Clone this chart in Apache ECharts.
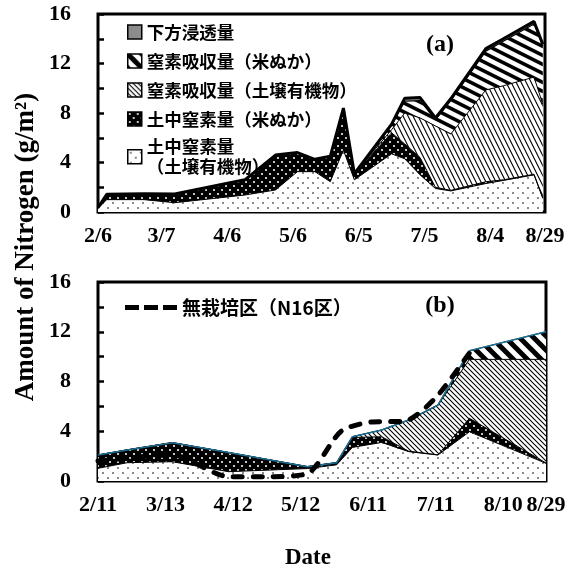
<!DOCTYPE html>
<html><head><meta charset="utf-8">
<script src="https://cdn.jsdelivr.net/npm/echarts@6/dist/echarts.min.js"></script>
<style>html,body{margin:0;padding:0;background:#fff}#c{width:578px;height:572px}</style>
</head><body><div id="c"></div>
<script>
// ---------- data: panel (a) ----------
const daysA = [0,4,21,35,67,81,91,99,106,112,117,134,140,147,154,161,177,185,199,203];
const soilOrgA = [0.3,1.0,1.0,0.75,1.37,1.78,3.26,3.26,2.45,5.0,2.6,4.7,4.3,3.0,1.9,1.7,2.3,2.55,3.0,1.1];
const soilBranA = [0.05,0.43,0.48,0.7,1.23,2.82,1.54,1.0,2.05,3.4,0.5,1.7,1.2,1.4,0.1,0.05,0.15,0.05,0.05,0.05];
const uptOrgA = [0,0,0,0,0,0,0,0,0,0,0,0.25,2.5,3.2,4.95,4.55,7.41,7.6,7.85,7.55];
const uptBranA = [0,0,0,0,0,0,0,0,0,0,0,0.35,0.95,1.4,0.5,2.7,3.14,3.6,4.3,4.7];
const leachA = [0,0,0,0,0,0,0,0,0,0,0,0.1,0.25,0.25,0.15,0.15,0.2,0.2,0.2,0.15];
const tickDaysA = [0,29,59,89,119,149,179,204];
const tickLabelsA = ['2/6','3/7','4/6','5/6','6/5','7/5','8/4','8/29'];

// ---------- data: panel (b) ----------
const daysB = [0,13,33,58,93,106,113,126,138,151,165,199];
const soilOrgB = [1.02,1.47,1.55,0.75,1.0,1.3,2.7,3.1,2.36,2.09,3.96,1.42];
const soilBranB = [1.07,1.03,1.53,1.54,0.15,0.17,0.8,0.46,0.04,0.01,1.08,0.03];
const uptOrgB = [0,0,0,0,0,0,0.06,0.54,2.5,4.0,4.74,8.33];
const uptBranB = [0,0,0,0,0,0,0,0,0,0,0.69,2.22];
const leachB = [0,0,0,0,0,0,0,0,0,0,0,0];
const fallowDays = [0,33,58,75,93,108,122,136,150,165];
const fallowN = [1.6,2.1,0.35,0.35,0.6,4.0,4.75,4.8,6.7,10.3];
const tickDaysB = [0,30,60,90,120,150,180,199];
const tickLabelsB = ['2/11','3/13','4/12','5/12','6/11','7/11','8/10','8/29'];

const yTicks = [0,4,8,12,16];

const N = ['土中窒素量\n（土壌有機物）','土中窒素量（米ぬか）','窒素吸収量（土壌有機物）','窒素吸収量（米ぬか）','下方浸透量'];
const fallowName = '無栽培区（N16区）';

// ---------- patterns ----------
function pat(w, h, draw) {
  const c = document.createElement('canvas'); c.width = w; c.height = h;
  const g = c.getContext('2d'); draw(g, w, h);
  return { image: c, repeat: 'repeat' };
}
function stripes(w, h, lw) {
  return pat(w, h, g => {
    g.fillStyle = '#fff'; g.fillRect(0, 0, w, h);
    g.strokeStyle = '#000'; g.lineWidth = lw; g.beginPath();
    for (let k = -2; k <= 2; k++) { g.moveTo(k*w - w, -h); g.lineTo(k*w + 2*w, 2*h); }
    g.stroke();
  });
}
const grey = pat(4, 4, g => { g.fillStyle = '#8c8c8c'; g.fillRect(0, 0, 4, 4); });
const dotsLight = pat(10, 10, g => { g.fillStyle='#fff'; g.fillRect(0,0,10,10); g.fillStyle='#8a8a8a'; g.fillRect(2,2,2,2); g.fillRect(7,7,2,2); });
const dotsDark = pat(8, 8, g => { g.fillStyle='#000'; g.fillRect(0,0,8,8); g.fillStyle='#c4c4c4'; g.fillRect(1,1,2,2); g.fillRect(5,5,2,2); });
const fineA = stripes(5, 10, 1.1);
const boldA = stripes(18, 9, 3.6);
const fineB = stripes(5, 5, 1.1);
const boldB = stripes(14, 14, 5);

// stacked layers: data stored as [value, day] so the value dimension is the stacked one
function mk(name, gi, days, vals, fill, lw, lc) {
  return {
    name, type: 'line', xAxisIndex: gi, yAxisIndex: gi, stack: 's' + gi,
    encode: { x: 1, y: 0 },
    data: days.map((d, i) => [vals[i], d]), symbol: 'none', z: 2,
    lineStyle: { color: lc, width: lw }, itemStyle: { color: lc },
    areaStyle: { color: fill, opacity: 1 }, emphasis: { disabled: true }
  };
}

const serif = '"Liberation Serif", "Times New Roman", serif';
const cjk = '"Noto Sans CJK JP", sans-serif';

function xAxis(gi, max, tdays, tlabels) {
  return {
    gridIndex: gi, type: 'value', min: 0, max: max,
    axisLine: { show: false }, splitLine: { show: false },
    axisTick: { show: true, inside: true, length: 6, lineStyle: { color: '#000', width: 2.5 },
      customValues: tdays.slice(1, -1) },
    axisLabel: { customValues: tdays, formatter: v => tlabels[tdays.indexOf(v)] || '',
      fontFamily: serif, fontWeight: 'bold', fontSize: 22, color: '#000', margin: 13 }
  };
}
function yAxis(gi) {
  return {
    gridIndex: gi, type: 'value', min: 0, max: 16, interval: 2,
    axisLine: { show: false }, splitLine: { show: false },
    axisTick: { show: true, inside: true, length: 6, lineStyle: { color: '#000', width: 2.5 } },
    axisLabel: { formatter: v => yTicks.indexOf(v) >= 0 ? String(v) : '',
      fontFamily: serif, fontWeight: 'bold', fontSize: 22, color: '#000', margin: 27 }
  };
}

function txt(x, y, text, size, rot) {
  return { type: 'text', x, y, z: 100, rotation: rot || 0,
    style: { text, font: 'bold ' + size + 'px ' + serif, fill: '#000', align: 'center', verticalAlign: 'middle', textAlign: 'center', textVerticalAlign: 'middle' } };
}

const chart = echarts.init(document.getElementById('c'), null, { renderer: 'canvas' });
chart.setOption({
  animation: false,
  backgroundColor: '#fff',
  grid: [
    { left: 98, top: 14, width: 447, height: 198, show: true, borderColor: '#000', borderWidth: 3, backgroundColor: 'transparent', outerBoundsMode: 'none' },
    { left: 98, top: 282, width: 448, height: 199, show: true, borderColor: '#000', borderWidth: 3, backgroundColor: 'transparent', outerBoundsMode: 'none' }
  ],
  xAxis: [xAxis(0, 204, tickDaysA, tickLabelsA), xAxis(1, 199, tickDaysB, tickLabelsB)],
  yAxis: [yAxis(0), yAxis(1)],
  legend: [
    {
      orient: 'vertical', left: 122, top: 17, itemGap: 9, itemWidth: 14, itemHeight: 14,
      icon: 'rect', selectedMode: false, z: 50,
      textStyle: { fontFamily: cjk, fontSize: 17.5, fontWeight: 'bold', color: '#000', lineHeight: 20 },
      data: [
        { name: N[4], itemStyle: { color: grey, borderColor: '#000', borderWidth: 1.5 } },
        { name: N[3], itemStyle: { color: boldB, borderColor: '#000', borderWidth: 1.5 } },
        { name: N[2], itemStyle: { color: fineB, borderColor: '#000', borderWidth: 1.5 } },
        { name: N[1], itemStyle: { color: dotsDark, borderColor: '#000', borderWidth: 1.5 } },
        { name: N[0], itemStyle: { color: dotsLight, borderColor: '#000', borderWidth: 1.5 }, textStyle: { padding: [0, 0, -20, 0] } }
      ]
    },
    {
      orient: 'horizontal', left: 120, top: 293, itemWidth: 52, itemHeight: 6, selectedMode: false, z: 50,
      textStyle: { fontFamily: cjk, fontSize: 19, fontWeight: 'bold', color: '#000' },
      data: [{ name: fallowName, icon: 'path://M0,0h14v5h-14z M19,0h14v5h-14z M38,0h14v5h-14z', itemStyle: { color: '#000', borderWidth: 0 } }]
    }
  ],
  graphic: [
    txt(440, 45, '(a)', 24),
    txt(440, 306, '(b)', 24),
    txt(26, 247, 'Amount of Nitrogen (g/m²)', 27, Math.PI / 2),
    txt(308, 558, 'Date', 23)
  ],
  series: [
    mk(N[0], 0, daysA, soilOrgA, dotsLight, 1, '#000'),
    mk(N[1], 0, daysA, soilBranA, dotsDark, 1, '#000'),
    mk(N[2], 0, daysA, uptOrgA, fineA, 1, '#000'),
    mk(N[3], 0, daysA, uptBranA, boldA, 1.2, '#000'),
    mk(N[4], 0, daysA, leachA, grey, 3, '#000'),
    mk(N[0], 1, daysB, soilOrgB, dotsLight, 1, '#000'),
    mk(N[1], 1, daysB, soilBranB, dotsDark, 1, '#000'),
    mk(N[2], 1, daysB, uptOrgB, fineB, 1, '#000'),
    mk(N[3], 1, daysB, uptBranB, boldB, 1.2, '#000'),
    mk(N[4], 1, daysB, leachB, grey, 1.5, '#1f6f93'),
    {
      name: fallowName, type: 'line', xAxisIndex: 1, yAxisIndex: 1, z: 5,
      data: fallowDays.map((d, i) => [d, fallowN[i]]), symbol: 'none', smooth: 0.25,
      lineStyle: { color: '#000', width: 5, type: [9, 11], cap: 'round' },
      itemStyle: { color: '#000' }, emphasis: { disabled: true }
    }
  ]
});
</script>
</body></html>
